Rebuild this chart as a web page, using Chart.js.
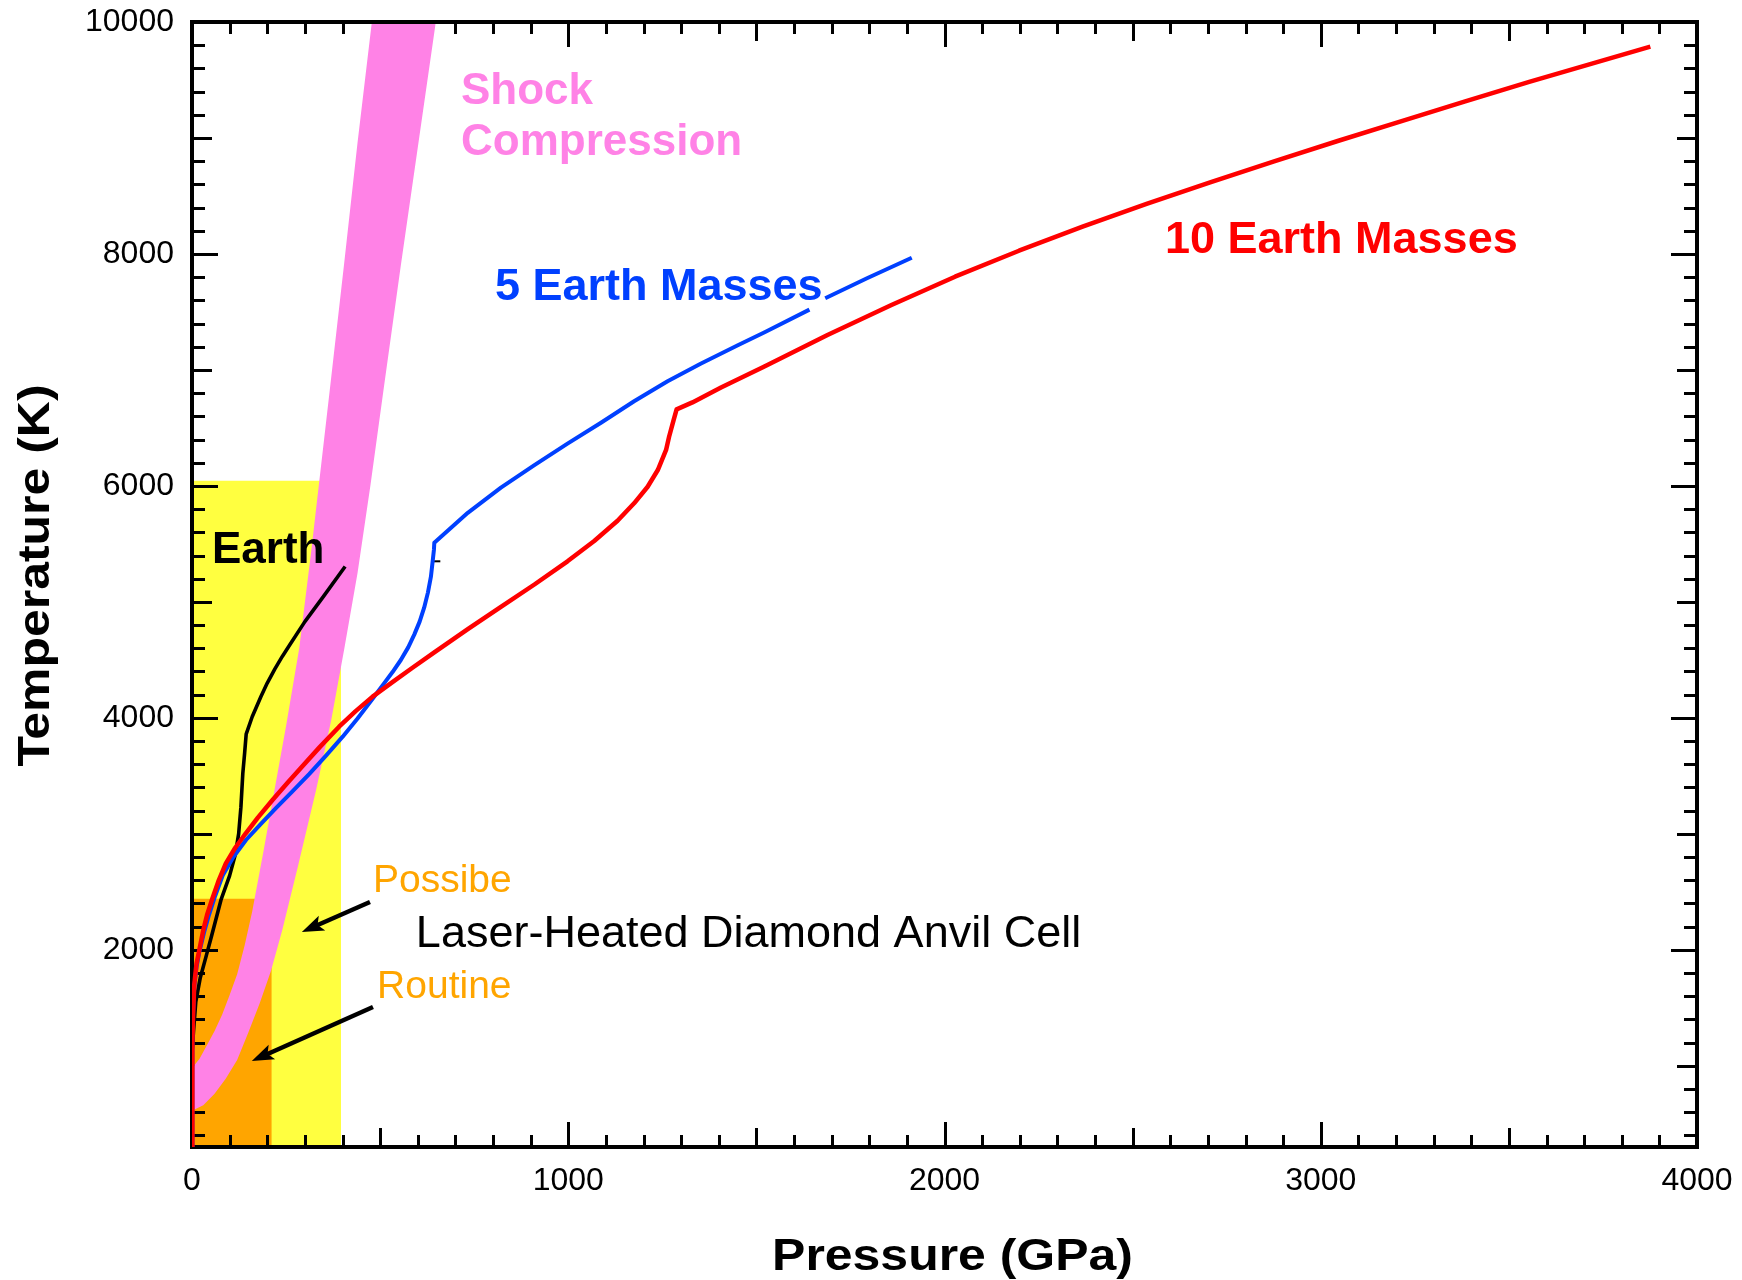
<!DOCTYPE html>
<html>
<head>
<meta charset="utf-8">
<title>Temperature vs Pressure</title>
<script src="https://cdn.jsdelivr.net/npm/chart.js@4.4.1/dist/chart.umd.min.js"></script>
<style>
  html, body { margin: 0; padding: 0; background: #ffffff; }
  #wrap { width: 1742px; height: 1280px; }
</style>
</head>
<body>
<div id="wrap"><canvas id="chart" width="1742" height="1280"></canvas></div>
<script>
// ---- Interior temperature profiles (pressure in GPa, temperature in K) ----
const earthP = [1, 4, 10, 22, 38, 52, 77, 100, 115, 124, 130, 135, 140, 144, 160, 183, 200, 220, 240, 260, 300, 350, 407];
const earthT = [1150, 1300, 1550, 1760, 1950, 2120, 2430, 2640, 2820, 3000, 3230, 3520, 3700, 3860, 4010, 4182, 4300, 4420, 4530, 4630, 4830, 5050, 5305];

const fiveEarthP = [0, 0.5, 1.5, 3, 6, 12, 20, 32, 45, 60, 81.5, 110, 143.5, 180, 223, 265, 312, 355, 400.5, 440, 480, 511, 533, 555, 575, 591, 605, 617, 627, 635, 640, 643, 644,
  733, 821, 910, 998, 1087, 1175, 1264, 1353, 1452, 1522, 1641, 1660, 1683, 1794, 1913];
const fiveEarthT = [300, 800, 1200, 1450, 1680, 1850, 1990, 2150, 2300, 2450, 2640, 2800, 2947, 3075, 3222, 3360, 3518, 3670, 3838, 3995, 4165, 4300, 4395, 4499, 4610, 4720, 4830, 4950, 5080, 5217, 5361, 5450, 5510,
  5768, 5985, 6180, 6365, 6545, 6730, 6902, 7055, 7215, 7325, 7520, null, 7618, 7790, 7967];

const tenEarthP = [0, 0.5, 1.5, 3, 6, 12, 19.5, 30, 40, 54, 70, 90, 115, 143, 175, 214, 254, 294, 340, 391, 435, 480, 530, 586, 644, 733, 821, 910, 998,
  1069, 1131, 1175, 1211, 1238, 1260, 1268, 1280, 1288, 1330, 1406, 1520, 1689, 1859, 2028, 2198, 2367, 2537, 2706, 2876, 3045, 3215, 3384, 3554, 3723, 3876];
const tenEarthT = [300, 800, 1200, 1450, 1700, 1880, 2000, 2170, 2300, 2440, 2590, 2746, 2880, 3005, 3140, 3292, 3440, 3585, 3750, 3924, 4058, 4183, 4302, 4432, 4565, 4765, 4958, 5150, 5350,
  5525, 5700, 5850, 5993, 6137, 6310, 6424, 6568, 6660, 6720, 6848, 7028, 7301, 7560, 7804, 8028, 8235, 8431, 8618, 8799, 8974, 9146, 9316, 9483, 9644, 9787];

// short black dash next to the 5-Earth-mass kink
const dashP = [642, 660];
const dashT = [5350, 5350];

// ---- Shock-compression band: low-pressure edge and high-pressure edge ----
const shockEdgeLowP = [0, 20, 40, 60, 80, 100, 120, 140, 160, 190, 220, 250, 285, 317, 342, 367, 404, 440, 478, 648];
const shockEdgeLowT = [979, 1060, 1180, 1300, 1440, 1610, 1790, 2040, 2330, 2850, 3390, 3930, 4600, 5442, 6146, 6850, 7906, 8962, 10000, 10000];
const shockEdgeHighP = [0, 30, 60, 90, 120, 150, 180, 210, 240, 280, 330, 370, 405, 440, 474, 510, 555, 602, 648];
const shockEdgeHighT = [613, 660, 760, 890, 1050, 1290, 1540, 1820, 2170, 2700, 3380, 3980, 4600, 5250, 6000, 6850, 7900, 8960, 10000];

// ---- Laser-heated diamond anvil cell ranges ----
const dacPossibleP = [0, 396];
const dacPossibleT = [6045, 6045];
const dacRoutineP = [0, 212];
const dacRoutineT = [2440, 2440];

// ---- Axis tick labels ----
const xTickValues = [0, 1000, 2000, 3000, 4000];
const yTickValues = [2000, 4000, 6000, 8000, 10000];

// -------------------------------------------------------------------------
const FONT = '"Liberation Sans", Arial, Helvetica, sans-serif';
const PINK = '#ff82e6';
const YELLOW = '#ffff40';
const ORANGE = '#ffa500';
const BLUE = '#0040ff';
const RED = '#ff0000';
const CLEAR = 'rgba(0,0,0,0)';

function toPoints(xs, ys) {
  return xs.map((x, i) => ({ x: x, y: ys[i] }));
}

const IDX_SHOCK = 4;
const IDX_ROUTINE = 6;

const datasets = [
  { label: '10 Earth Masses', data: toPoints(tenEarthP, tenEarthT), borderColor: RED, borderWidth: 4.5, fill: false },
  { label: '5 Earth Masses', data: toPoints(fiveEarthP, fiveEarthT), borderColor: BLUE, borderWidth: 4, fill: false, spanGaps: false },
  { label: 'Earth', data: toPoints(earthP, earthT), borderColor: '#000000', borderWidth: 3.6, fill: false },
  { label: 'dash', data: toPoints(dashP, dashT), borderColor: '#000000', borderWidth: 2, fill: false },
  { label: 'Shock Compression', data: toPoints(shockEdgeLowP, shockEdgeLowT), borderColor: CLEAR, borderWidth: 0, backgroundColor: PINK, fill: '+1' },
  { label: 'Shock edge', data: toPoints(shockEdgeHighP, shockEdgeHighT), borderColor: CLEAR, borderWidth: 0, fill: false },
  { label: 'Routine', data: toPoints(dacRoutineP, dacRoutineT), borderColor: CLEAR, borderWidth: 0, backgroundColor: ORANGE, fill: 'start' },
  { label: 'Possible', data: toPoints(dacPossibleP, dacPossibleT), borderColor: CLEAR, borderWidth: 0, backgroundColor: YELLOW, fill: 'start' }
];
datasets.forEach(d => { d.pointRadius = 0; d.pointHoverRadius = 0; d.tension = 0; d.borderJoinStyle = 'round'; });

// Annotations placed in data coordinates (GPa, K)
const labels = [
  { text: 'Shock', p: 715, t: 9293, color: PINK, weight: 'bold', size: 44 },
  { text: 'Compression', p: 715, t: 8853, color: PINK, weight: 'bold', size: 44 },
  { text: '5 Earth Masses', p: 805, t: 7603, color: BLUE, weight: 'bold', size: 45 },
  { text: '10 Earth Masses', p: 2586, t: 8008, color: RED, weight: 'bold', size: 45 },
  { text: 'Earth', p: 53, t: 5335, color: '#000000', weight: 'bold', size: 44 },
  { text: 'Possibe', p: 481, t: 2499, color: ORANGE, weight: 'normal', size: 39 },
  { text: 'Laser-Heated Diamond Anvil Cell', p: 595, t: 2024, color: '#000000', weight: 'normal', size: 45 },
  { text: 'Routine', p: 492, t: 1585, color: ORANGE, weight: 'normal', size: 39 }
];
const arrows = [
  { from: [473, 2412], to: [292, 2154] },
  { from: [481, 1507], to: [159, 1042] }
];

function drawInwardTicks(chart) {
  const { ctx, chartArea: a, scales } = chart;
  const xs = scales.x, ys = scales.y;
  ctx.save();
  ctx.strokeStyle = '#000000';
  ctx.lineWidth = 3;
  ctx.lineCap = 'butt';
  ctx.beginPath();
  for (let v = 100; v < 4000; v += 100) {
    const len = v % 1000 === 0 ? 25 : (v % 500 === 0 ? 19 : 12);
    const px = Math.round(xs.getPixelForValue(v)) + 0.5;
    ctx.moveTo(px, a.bottom); ctx.lineTo(px, a.bottom - len);
    ctx.moveTo(px, a.top); ctx.lineTo(px, a.top + len);
  }
  for (let v = 400; v < 10000; v += 200) {
    const len = v % 2000 === 0 ? 26 : (v % 1000 === 0 ? 20 : 13);
    const py = Math.round(ys.getPixelForValue(v)) + 0.5;
    ctx.moveTo(a.left, py); ctx.lineTo(a.left + len, py);
    ctx.moveTo(a.right, py); ctx.lineTo(a.right - len, py);
  }
  ctx.stroke();
  ctx.restore();
}

function drawFrame(chart) {
  const { ctx, chartArea: a } = chart;
  ctx.save();
  ctx.strokeStyle = '#000000';
  ctx.lineWidth = 4;
  ctx.strokeRect(a.left, a.top, a.right - a.left, a.bottom - a.top);
  ctx.restore();
}

function drawArrow(ctx, x1, y1, x2, y2) {
  const dx = x2 - x1, dy = y2 - y1;
  const L = Math.hypot(dx, dy);
  const ux = dx / L, uy = dy / L;
  const headLen = 22, headHalf = 8;
  ctx.save();
  ctx.strokeStyle = '#000000';
  ctx.fillStyle = '#000000';
  ctx.lineWidth = 4.5;
  ctx.beginPath();
  ctx.moveTo(x1, y1);
  ctx.lineTo(x2 - ux * headLen * 0.7, y2 - uy * headLen * 0.7);
  ctx.stroke();
  const bx = x2 - ux * headLen, by = y2 - uy * headLen;
  ctx.beginPath();
  ctx.moveTo(x2, y2);
  ctx.lineTo(bx - uy * headHalf, by + ux * headHalf);
  ctx.lineTo(x2 - ux * headLen * 0.78, y2 - uy * headLen * 0.78);
  ctx.lineTo(bx + uy * headHalf, by - ux * headHalf);
  ctx.closePath();
  ctx.fill();
  ctx.restore();
}

const decorPlugin = {
  id: 'decor',
  afterDatasetDraw(chart, args) {
    if (args.index === IDX_ROUTINE) drawInwardTicks(chart);
    if (args.index === IDX_SHOCK) drawFrame(chart);
  },
  afterDatasetsDraw(chart) {
    const { ctx, scales } = chart;
    const xs = scales.x, ys = scales.y;
    ctx.save();
    ctx.textAlign = 'left';
    ctx.textBaseline = 'alphabetic';
    labels.forEach(l => {
      ctx.font = l.weight + ' ' + l.size + 'px ' + FONT;
      ctx.fillStyle = l.color;
      ctx.fillText(l.text, xs.getPixelForValue(l.p), ys.getPixelForValue(l.t));
    });
    arrows.forEach(ar => {
      drawArrow(ctx,
        xs.getPixelForValue(ar.from[0]), ys.getPixelForValue(ar.from[1]),
        xs.getPixelForValue(ar.to[0]), ys.getPixelForValue(ar.to[1]));
    });
    ctx.restore();
  },
  afterDraw(chart) {
    // axis titles, drawn with a slightly widened bold face
    const { ctx, chartArea: a } = chart;
    const stretch = 1.135;
    ctx.save();
    ctx.font = 'bold 44px ' + FONT;
    ctx.fillStyle = '#000000';
    ctx.textAlign = 'center';
    ctx.textBaseline = 'alphabetic';
    ctx.save();
    ctx.translate((a.left + a.right) / 2 + 8, 1270);
    ctx.scale(stretch, 1);
    ctx.fillText('Pressure (GPa)', 0, 0);
    ctx.restore();
    ctx.save();
    ctx.translate(49, (a.top + a.bottom) / 2 - 9);
    ctx.rotate(-Math.PI / 2);
    ctx.scale(stretch, 1);
    ctx.fillText('Temperature (K)', 0, 0);
    ctx.restore();
    ctx.restore();
  }
};

new Chart(document.getElementById('chart'), {
  type: 'line',
  data: { datasets: datasets },
  options: {
    responsive: false,
    devicePixelRatio: 1,
    animation: false,
    layout: { autoPadding: false, padding: { left: 0, right: 45, top: 22, bottom: 0 } },
    plugins: { legend: { display: false }, tooltip: { enabled: false } },
    scales: {
      x: {
        type: 'linear',
        position: 'bottom',
        min: 0,
        max: 4000,
        afterBuildTicks: s => { s.ticks = xTickValues.map(v => ({ value: v })); },
        afterFit: s => { s.height = 133; s.paddingLeft = 0; s.paddingRight = 0; },
        grid: { display: false, drawTicks: false },
        border: { display: false },
        ticks: {
          autoSkip: false,
          maxRotation: 0,
          padding: 15,
          color: '#000000',
          font: { family: FONT, size: 32 },
          callback: v => String(v)
        }
      },
      y: {
        type: 'linear',
        position: 'left',
        min: 300,
        max: 10000,
        afterBuildTicks: s => { s.ticks = yTickValues.map(v => ({ value: v })); },
        afterFit: s => { s.width = 192; s.paddingTop = 0; s.paddingBottom = 0; },
        grid: { display: false, drawTicks: false },
        border: { display: false },
        ticks: {
          autoSkip: false,
          padding: 18,
          color: '#000000',
          font: { family: FONT, size: 32 },
          callback: v => String(v)
        }
      }
    }
  },
  plugins: [decorPlugin]
});
</script>
</body>
</html>
